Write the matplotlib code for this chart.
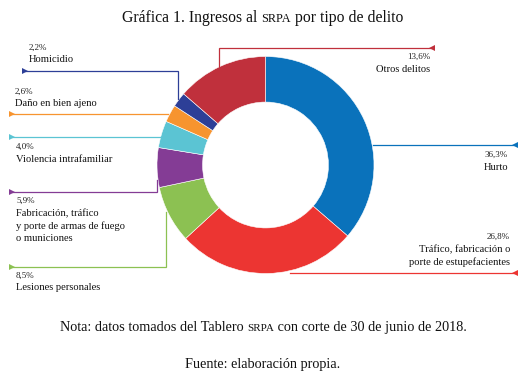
import matplotlib.pyplot as plt

plt.rcParams['font.family'] = ['Liberation Serif', 'DejaVu Serif']

# slices, clockwise from the top
categories = ['Hurto', 'Tráfico, fabricación o\nporte de estupefacientes', 'Lesiones personales',
              'Fabricación, tráfico\ny porte de armas de fuego\no municiones', 'Violencia intrafamiliar',
              'Daño en bien ajeno', 'Homicidio', 'Otros delitos']
values = [36.3, 26.8, 8.5, 5.9, 4.0, 2.6, 2.2, 13.6]
pct_labels = ['36,3%', '26,8%', '8,5%', '5,9%', '4,0%', '2,6%', '2,2%', '13,6%']
colors = ['#0a72bb', '#ec3532', '#8cc152', '#843c95', '#5bc4d3', '#f7942f', '#2d3f97', '#c0303c']

W, H = 527, 375
fig = plt.figure(figsize=(W / 100, H / 100), dpi=100)
ax = fig.add_axes([0, 0, 1, 1])

cx, cy, R = 265.5, 165, 108.5
# y axis is inverted, so start at -90 and go "counterclock" to get clockwise from top on screen
ax.pie(values, colors=colors, center=(cx, cy), radius=R, startangle=-90, counterclock=True,
       wedgeprops=dict(width=R * 0.42, edgecolor='white', linewidth=0.4), frame=True)
ax.set_xlim(0, W)
ax.set_ylim(H, 0)
ax.axis('off')

# leader lines: (points, arrow marker at first point)
leaders = {
    0: ([(515, 145), (373, 145)], '<'),
    1: ([(515, 272.5), (290, 272.5)], '<'),
    2: ([(12, 267), (166, 267), (166, 212)], '>'),
    3: ([(12, 192), (157, 192), (157, 180)], '>'),
    4: ([(12, 137), (161, 137)], '>'),
    5: ([(12, 114), (168, 114)], '>'),
    6: ([(25, 71), (178, 71), (178, 99)], '>'),
    7: ([(432, 47.5), (219, 47.5), (219, 68)], '<'),
}
for i, (pts, mk) in leaders.items():
    xs = [p[0] for p in pts]
    ys = [p[1] for p in pts]
    ax.plot(xs, ys, color=colors[i], lw=0.9, solid_joinstyle='miter')
    ax.plot(xs[0], ys[0], marker=mk, color=colors[i], markersize=5, markeredgewidth=0)

# text labels: (x, y of percent, alignment)
label_pos = {
    0: (508, 155, 'right'),
    1: (510, 237, 'right'),
    2: (16, 276, 'left'),
    3: (16, 201, 'left'),
    4: (16, 147, 'left'),
    5: (15, 92, 'left'),
    6: (29, 48, 'left'),
    7: (430, 57, 'right'),
}
for i, (x, y, ha) in label_pos.items():
    ax.text(x, y, pct_labels[i], fontsize=6.5, ha=ha, va='center', color='#222222')
    ax.text(x, y + 7.5, categories[i], fontsize=7.55, ha=ha, va='top', color='#111111',
            linespacing=1.42, multialignment=ha)

# lines of text with "SRPA" in small caps (smaller font)
renderer = fig.canvas.get_renderer()


def mixed_line(parts, x_center, y, size):
    objs = []
    for txt, small in parts:
        objs.append(ax.text(0, y, txt, fontsize=size * 0.78 if small else size,
                            ha='left', va='baseline', color='#111111'))
    widths = [o.get_window_extent(renderer).width for o in objs]
    x = x_center - sum(widths) / 2
    for o, w in zip(objs, widths):
        o.set_x(x)
        x += w


mixed_line([('Gráfica 1. Ingresos al ', False), ('SRPA', True), (' por tipo de delito', False)],
           263, 21.5, 11.3)
mixed_line([('Nota: datos tomados del Tablero ', False), ('SRPA', True),
            (' con corte de 30 de junio de 2018.', False)], 263, 331, 10.3)
mixed_line([('Fuente: elaboración propia.', False)], 263, 368, 10.3)

fig.savefig('out.png', dpi=100)
